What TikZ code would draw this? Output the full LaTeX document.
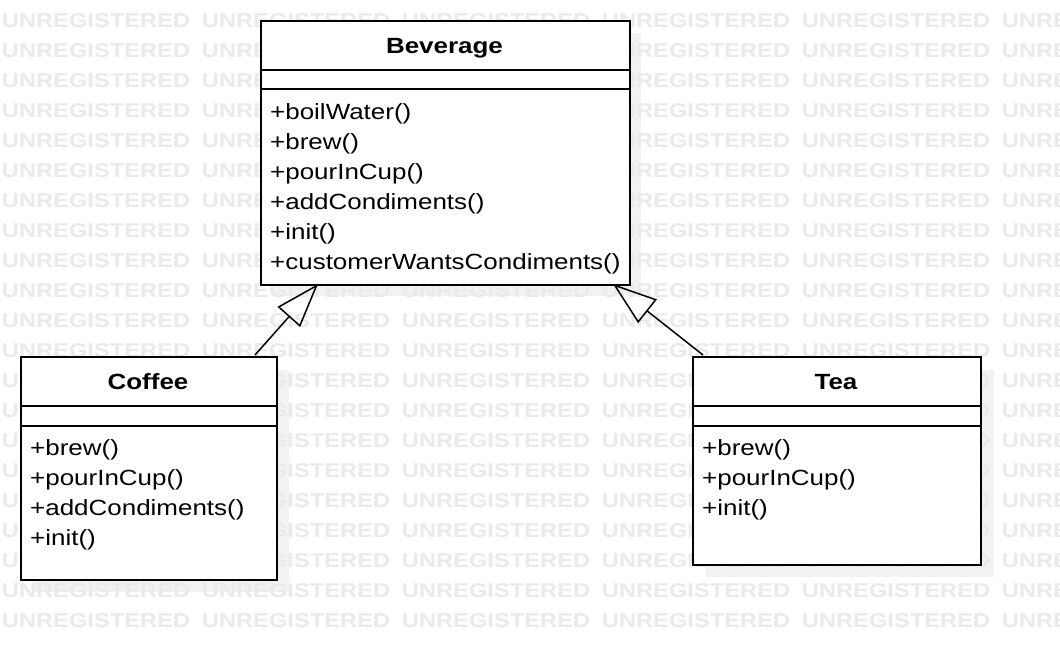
\documentclass[tikz,border=0pt]{standalone}
\usepackage{fontspec}
\setmainfont{Liberation Sans}[FakeStretch=1.18]
\newfontfamily\wmfont{Liberation Sans}[FakeStretch=1.185]
\usetikzlibrary{arrows.meta}
\definecolor{wmgray}{RGB}{234,234,234}
\definecolor{shadowgray}{RGB}{242,242,242}
\tikzset{
  classbox/.style={draw=black, line width=2pt, fill=white, inner sep=0pt, anchor=north west},
  divider/.style={draw=black, line width=2pt},
  shadowbox/.style={fill=shadowgray, draw=none, inner sep=0pt, anchor=north west},
  title/.style={font=\fontsize{22}{26}\selectfont\bfseries, anchor=base, inner sep=0pt},
  member/.style={font=\fontsize{22}{26}\selectfont, anchor=base west, inner sep=0pt},
  wm/.style={font=\wmfont\fontsize{20}{22}\selectfont\bfseries, text=wmgray, anchor=base west, inner sep=0pt},
  inherit/.style={draw=black, line width=1.5pt, -{Triangle[open, length=44pt, width=30pt, line width=1.5pt]}}
}
\begin{document}
\begin{tikzpicture}[x=1pt, y=-1pt]
\useasboundingbox (0,0) rectangle (1060,660);
\fill[white] (0,0) rectangle (1060,660);
% shadows
\node[shadowbox, minimum width=369pt, minimum height=263pt] (bevsh) at (272,33) {};
\node[shadowbox, minimum width=256pt, minimum height=222pt] (cofsh) at (33,370) {};
\node[shadowbox, minimum width=288pt, minimum height=207pt] (teash) at (706,370) {};
% watermark
\foreach \r in {-1,...,20}{
  \foreach \c in {0,...,5}{
    \node[wm] (wm-\r-\c) at ({\c*200+1.7}, {27.7+\r*30}) {UNREGISTERED};
  }
}
% Beverage
\node[classbox, minimum width=369pt, minimum height=264pt] (bev) at (260,20) {};
\draw[divider] (260,70) -- (629,70);
\draw[divider] (260,89.5) -- (629,89.5);
\node[title] (bevt) at (444.5,53.3) {Beverage};
\foreach \t [count=\i from 0] in {+boilWater(),+brew(),+pourInCup(),+addCondiments(),+init(),+customerWantsCondiments()}{
  \node[member] (bevm\i) at (270,{120+\i*30}) {\t};
}
% Coffee
\node[classbox, minimum width=256pt, minimum height=222.5pt] (cof) at (20,356) {};
\draw[divider] (20,406) -- (276,406);
\draw[divider] (20,425.5) -- (276,425.5);
\node[title] (coft) at (148,389) {Coffee};
\foreach \t [count=\i from 0] in {+brew(),+pourInCup(),+addCondiments(),+init()}{
  \node[member] (cofm\i) at (30,{455+\i*30}) {\t};
}
% Tea
\node[classbox, minimum width=288pt, minimum height=207.5pt] (tea) at (692,356) {};
\draw[divider] (692,406) -- (980,406);
\draw[divider] (692,425.5) -- (980,425.5);
\node[title] (teat) at (836,389) {Tea};
\foreach \t [count=\i from 0] in {+brew(),+pourInCup(),+init()}{
  \node[member] (team\i) at (702,{455+\i*30}) {\t};
}
% inheritance
\coordinate (cofA) at (255,355);
\coordinate (bevA) at (318,284);
\coordinate (teaA) at (703,355);
\coordinate (bevB) at (613,284);
\draw[inherit] (cofA) -- (bevA);
\draw[inherit] (teaA) -- (bevB);
\end{tikzpicture}
\end{document}
